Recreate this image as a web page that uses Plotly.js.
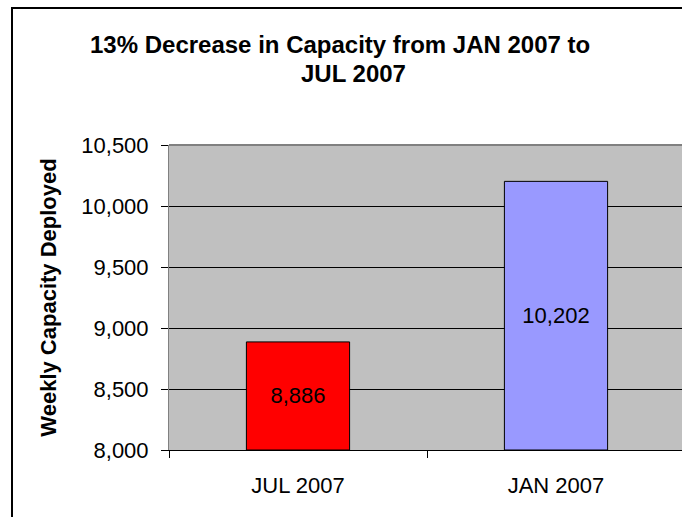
<!DOCTYPE html>
<html>
<head>
<meta charset="utf-8">
<script src="https://cdn.plot.ly/plotly-3.0.1.min.js"></script>
<style>
html,body{margin:0;padding:0;overflow:hidden;background:#fff;width:682px;height:517px;}
#wrap{position:relative;width:682px;height:517px;overflow:hidden;}
#chart{position:absolute;left:0;top:0;}
#frame{position:absolute;left:11px;top:7px;width:700px;height:540px;border:2px solid #000;box-sizing:border-box;pointer-events:none;}
</style>
</head>
<body>
<div id="wrap">
<div id="chart"></div>
<div id="frame"></div>
</div>
<script>
const categories = ["JUL 2007", "JAN 2007"];
const capacity = [8886, 10202];
const barColors = ["#FF0000", "#9999FF"];
const barLabels = ["8,886", "10,202"];
const yTicks = [8000, 8500, 9000, 9500, 10000, 10500];
const yTickText = ["8,000", "8,500", "9,000", "9,500", "10,000", "10,500"];
const titleLines = ["13% Decrease in Capacity from JAN 2007 to", "JUL 2007"];
const yTitle = "Weekly Capacity Deployed";

const FONT = "Liberation Sans, Arial, sans-serif";
const yMin = yTicks[0];
const yMax = yTicks[yTicks.length - 1];

const trace = {
  type: "bar",
  x: categories,
  y: capacity.map(v => v - yMin),
  base: yMin,
  marker: {color: barColors, line: {color: "#000", width: 1}},
  text: barLabels,
  texttemplate: "%{text}",
  textposition: "inside",
  insidetextanchor: "middle",
  textangle: 0,
  constraintext: "none",
  textfont: {family: FONT, size: 22, color: "#000"},
  hoverinfo: "none"
};

const layout = {
  width: 700,
  height: 517,
  margin: {l: 169, r: 15, t: 145, b: 67, pad: 0},
  paper_bgcolor: "#fff",
  plot_bgcolor: "#C0C0C0",
  bargap: 0.6,
  showlegend: false,
  uniformtext: {mode: false},
  font: {family: FONT, size: 22, color: "#000"},
  xaxis: {
    type: "category",
    range: [-0.5, 1.5],
    showline: true, linecolor: "#000", linewidth: 1,
    ticks: "outside", tickson: "boundaries", ticklen: 7, tickcolor: "#000",
    ticklabelstandoff: 16,
    showgrid: false, zeroline: false,
    tickfont: {family: FONT, size: 22, color: "#000"},
    fixedrange: true
  },
  yaxis: {
    range: [yMin, yMax],
    tickvals: yTicks,
    ticktext: yTickText,
    showline: true, linecolor: "#808080", linewidth: 1,
    ticks: "outside", ticklen: 7, tickcolor: "#000",
    ticklabelstandoff: 8,
    showgrid: true, gridcolor: "#000", gridwidth: 1,
    zeroline: false,
    tickfont: {family: FONT, size: 22, color: "#000"},
    title: {text: "<b>" + yTitle + "</b>", font: {family: FONT, size: 22, color: "#000"}, standoff: 18},
    automargin: false,
    fixedrange: true
  },
  shapes: [
    {type: "line", xref: "paper", yref: "paper", x0: 0, x1: 1, y0: 1, y1: 1,
     line: {color: "#808080", width: 2}, layer: "above"}
  ],
  annotations: [
    {text: "<b>" + titleLines[0] + "</b>", xref: "paper", yref: "paper",
     x: 0.3314, y: 1.328, xanchor: "center", yanchor: "middle", showarrow: false,
     font: {family: FONT, size: 24, color: "#000"}},
    {text: "<b>" + titleLines[1] + "</b>", xref: "paper", yref: "paper",
     x: 0.3585, y: 1.233, xanchor: "center", yanchor: "middle", showarrow: false,
     font: {family: FONT, size: 24, color: "#000"}}
  ]
};

Plotly.newPlot("chart", [trace], layout, {displayModeBar: false, staticPlot: true});
</script>
</body>
</html>
